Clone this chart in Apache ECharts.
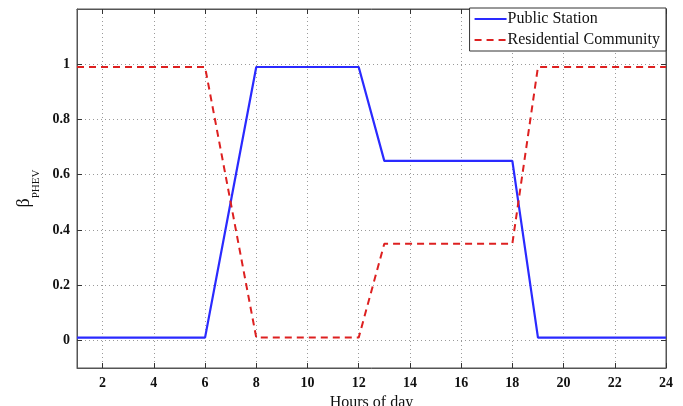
<!DOCTYPE html>
<html>
<head>
<meta charset="utf-8">
<script src="https://cdn.jsdelivr.net/npm/echarts@6/dist/echarts.min.js"></script>
<style>html,body{margin:0;padding:0;background:#fff}#c{width:683px;height:406px}</style>
</head>
<body>
<div id="c"></div>
<script>
const hours = [1,2,3,4,5,6,7,8,9,10,11,12,13,14,15,16,17,18,19,20,21,22,23,24];
const publicStation = [0.01,0.01,0.01,0.01,0.01,0.01,0.5,0.99,0.99,0.99,0.99,0.99,0.65,0.65,0.65,0.65,0.65,0.65,0.01,0.01,0.01,0.01,0.01,0.01];
const residential = [0.99,0.99,0.99,0.99,0.99,0.99,0.5,0.01,0.01,0.01,0.01,0.01,0.35,0.35,0.35,0.35,0.35,0.35,0.99,0.99,0.99,0.99,0.99,0.99];
const xTicks = [2,4,6,8,10,12,14,16,18,20,22,24];
const yTicks = [0,0.2,0.4,0.6,0.8,1];

const serif = '"Liberation Serif","DejaVu Serif",serif';
const chart = echarts.init(document.getElementById('c'));
const gridLine = {show:true, lineStyle:{color:'#9a9a9a', type:[1,3], width:1}};
chart.setOption({
  animation:false,
  grid:{left:77, right:17, top:9, bottom:38, show:true, borderColor:'#555', borderWidth:1, outerBoundsMode:'none', containLabel:false},
  legend:{
    right:17, top:8, orient:'vertical', itemGap:5, itemWidth:32, itemHeight:15,
    padding:[3,6,3,4], backgroundColor:'#fff', borderColor:'#333', borderWidth:1,
    itemStyle:{opacity:0},
    textStyle:{fontFamily:serif, fontSize:16, color:'#111', padding:[0,0,0,-4]},
    data:['Public Station','Residential Community']
  },
  xAxis:[{
    type:'value', min:1, max:24,
    name:'Hours of day', nameLocation:'middle', nameGap:24,
    nameTextStyle:{fontFamily:serif, fontSize:16, color:'#111'},
    axisLine:{show:true, onZero:false, lineStyle:{color:'#555'}},
    axisTick:{show:true, inside:true, length:5, customValues:xTicks, lineStyle:{color:'#333'}},
    axisLabel:{customValues:xTicks, fontFamily:serif, fontWeight:'bold', fontSize:14, color:'#111', margin:8},
    splitLine:gridLine
  },{
    type:'value', min:1, max:24, position:'top',
    axisLine:{show:true, onZero:false, lineStyle:{color:'#555'}},
    axisTick:{show:true, inside:true, length:5, customValues:xTicks, lineStyle:{color:'#333'}},
    axisLabel:{show:false}, splitLine:{show:false}
  }],
  yAxis:[{
    type:'value', min:-0.1, max:1.2,
    name:'{b|β}{s|PHEV}', nameLocation:'middle', nameGap:20, nameRotate:90,
    nameTextStyle:{rich:{b:{fontFamily:serif, fontSize:18, color:'#111'}, s:{fontFamily:serif, fontSize:11, color:'#111', verticalAlign:'bottom', padding:[0,0,-8,0]}}},
    axisLine:{show:true, onZero:false, lineStyle:{color:'#555'}},
    axisTick:{show:true, inside:true, length:5, customValues:yTicks, lineStyle:{color:'#333'}},
    axisLabel:{customValues:yTicks, fontFamily:serif, fontWeight:'bold', fontSize:14, color:'#111', margin:7,
      formatter:v=>String(Math.round(v*10)/10)},
    splitLine:gridLine
  },{
    type:'value', min:-0.1, max:1.2, position:'right',
    axisLine:{show:true, onZero:false, lineStyle:{color:'#555'}},
    axisTick:{show:true, inside:true, length:5, customValues:yTicks, lineStyle:{color:'#333'}},
    axisLabel:{show:false}, splitLine:{show:false}
  }],
  series:[{
    name:'Public Station', type:'line', symbol:'none', xAxisIndex:0, yAxisIndex:0,
    data:hours.map((h,i)=>[h,publicStation[i]]),
    lineStyle:{color:'#2a2aff', width:2.2}, itemStyle:{color:'#2a2aff'}
  },{
    name:'Residential Community', type:'line', symbol:'none', xAxisIndex:0, yAxisIndex:0,
    data:hours.map((h,i)=>[h,residential[i]]),
    lineStyle:{color:'#dd2020', width:2, type:[7,5]}, itemStyle:{color:'#dd2020'}
  }]
});
</script>
</body>
</html>
